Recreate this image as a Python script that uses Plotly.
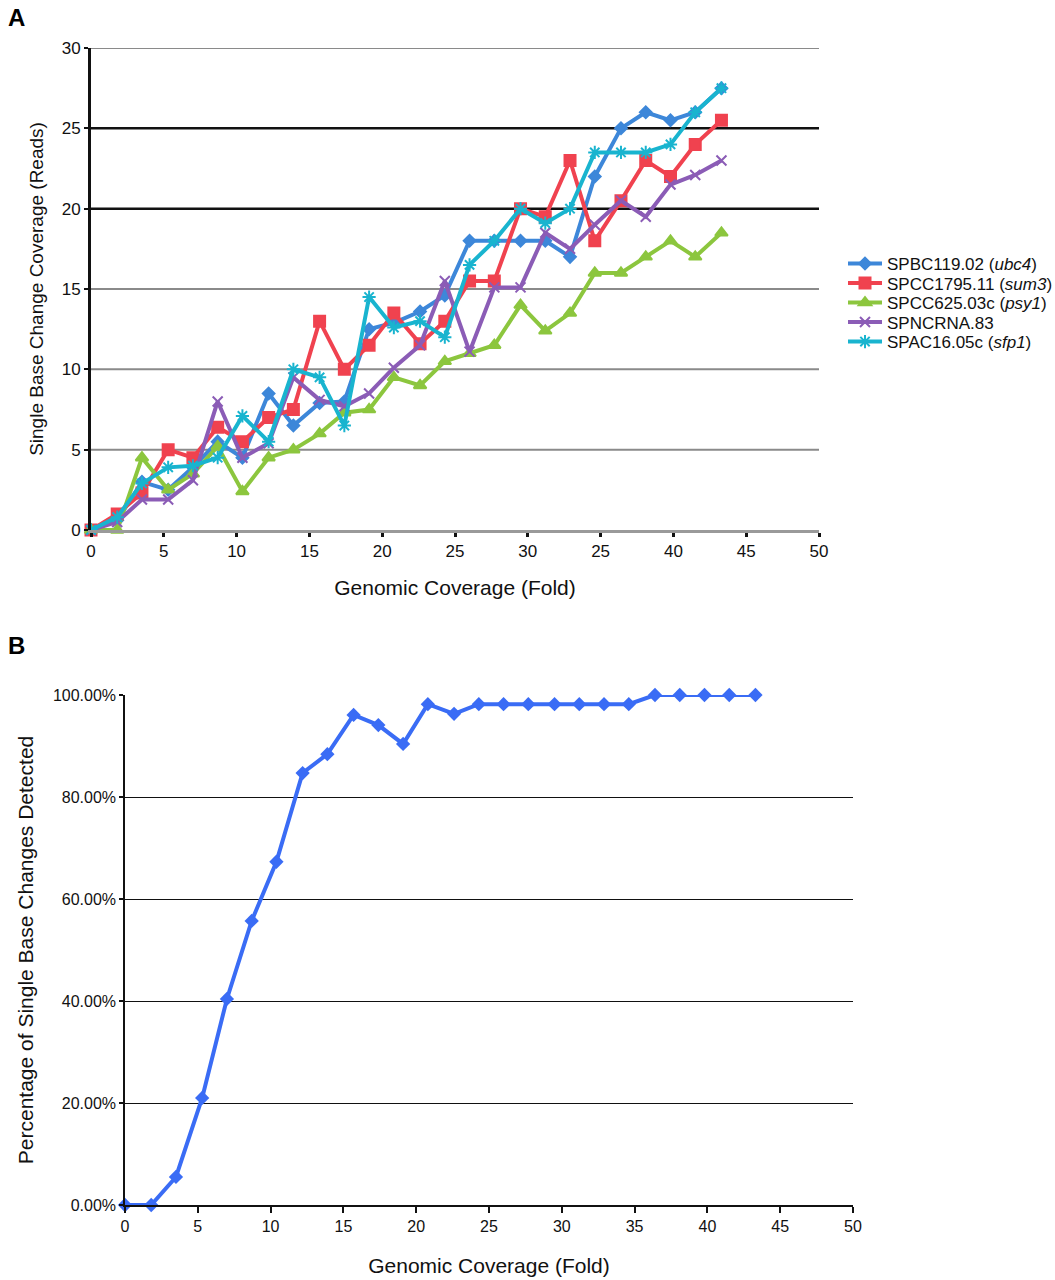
import plotly.graph_objects as go

# ---------------- data ----------------
coverage = [0, 1.8, 3.5, 5.3, 7.0, 8.7, 10.4, 12.2, 13.9, 15.7, 17.4, 19.1, 20.8,
            22.6, 24.3, 26.0, 27.7, 29.5, 31.2, 32.9, 34.6, 36.4, 38.1, 39.8, 41.5, 43.3]

ubc4 = [0, 0.6, 3.0, 2.5, 3.9, 5.5, 4.5, 8.5, 6.5, 7.9, 8.0, 12.5, 12.9,
        13.6, 14.6, 18.0, 18.0, 18.0, 18.0, 17.0, 22.0, 25.0, 26.0, 25.5, 26.0, 27.5]
sum3 = [0, 1.0, 2.3, 5.0, 4.5, 6.4, 5.5, 7.0, 7.5, 13.0, 10.0, 11.5, 13.5,
        11.6, 13.0, 15.5, 15.5, 20.0, 19.5, 23.0, 18.0, 20.5, 23.0, 22.0, 24.0, 25.5]
psy1 = [0, 0, 4.5, 2.5, 3.5, 5.2, 2.4, 4.5, 5.0, 6.0, 7.3, 7.5, 9.5,
        9.0, 10.5, 11.0, 11.5, 14.0, 12.4, 13.5, 16.0, 16.0, 17.0, 18.0, 17.0, 18.5]
spncrna83 = [0, 0.5, 1.9, 1.9, 3.1, 8.0, 4.5, 5.4, 9.5, 8.1, 7.7, 8.5, 10.1,
             11.5, 15.5, 11.1, 15.1, 15.1, 18.5, 17.5, 19.0, 20.5, 19.5, 21.5, 22.1, 23.0]
sfp1 = [0, 0.8, 2.9, 3.9, 4.0, 4.5, 7.1, 5.5, 10.0, 9.5, 6.5, 14.5, 12.6,
        13.0, 12.0, 16.5, 18.0, 20.0, 19.1, 20.0, 23.5, 23.5, 23.5, 24.0, 26.0, 27.5]

pct_detected = [0, 0, 5.5, 21.0, 40.4, 55.7, 67.3, 84.7, 88.4, 96.1, 94.1, 90.4, 98.2,
                96.3, 98.2, 98.2, 98.2, 98.2, 98.2, 98.2, 98.2, 100, 100, 100, 100, 100]

series_names = ["SPBC119.02 (<i>ubc4</i>)", "SPCC1795.11 (<i>sum3</i>)",
                "SPCC625.03c (<i>psy1</i>)", "SPNCRNA.83", "SPAC16.05c (<i>sfp1</i>)"]
series_values = [ubc4, sum3, psy1, spncrna83, sfp1]

a_xtick_vals = [0, 5, 10, 15, 20, 25, 30, 35, 40, 45, 50]
a_xtick_text = ["0", "5", "10", "15", "20", "25", "30", "25", "40", "45", "50"]
a_ytick_vals = [0, 5, 10, 15, 20, 25, 30]
a_gray_grid = [5, 10, 15, 30]
a_dark_grid = [20, 25]
b_xtick_vals = [0, 5, 10, 15, 20, 25, 30, 35, 40, 45, 50]
b_ytick_vals = [0, 20, 40, 60, 80, 100]
b_ytick_text = ["0.00%", "20.00%", "40.00%", "60.00%", "80.00%", "100.00%"]

# ---------------- styles ----------------
colors = ["#3d87d9", "#f0424f", "#8cc63e", "#8b5cb6", "#19b4cf"]
symbols = ["diamond", "square", "triangle-up", "x-thin-open", "asterisk-open"]
msizes = [9, 11, 11, 10, 11]
FONT = "Liberation Sans, Arial, sans-serif"
W, H = 1055, 1280
legend_ids = ["legend", "legend2", "legend3", "legend4", "legend5"]
legend_px_y = [264, 283.5, 303, 322.5, 342]

fig = go.Figure()

for name, vals, c, s, ms, lg in zip(series_names, series_values, colors, symbols, msizes, legend_ids):
    fig.add_trace(go.Scatter(
        x=coverage, y=vals, name=name, mode="lines+markers",
        line=dict(color=c, width=4),
        marker=dict(symbol=s, size=ms, color=c, line=dict(color=c, width=2)),
        cliponaxis=False, xaxis="x", yaxis="y", legend=lg,
    ))

fig.add_trace(go.Scatter(
    x=coverage, y=pct_detected, mode="lines+markers", showlegend=False,
    line=dict(color="#3a6cf5", width=4),
    marker=dict(symbol="diamond", size=11, color="#3a6cf5"),
    cliponaxis=False, xaxis="x2", yaxis="y2",
))

tickfont_a = dict(family=FONT, size=17, color="#111")
tickfont_b = dict(family=FONT, size=16, color="#111")

legend_layout = {}
for lg, py in zip(legend_ids, legend_px_y):
    legend_layout[lg] = dict(
        x=843 / W, y=1 - py / H, xanchor="left", yanchor="middle",
        font=dict(family=FONT, size=17, color="#111"),
        itemwidth=34, bgcolor="rgba(0,0,0,0)",
    )

grid_shapes = (
    [dict(type="line", xref="x domain", yref="y", x0=0, x1=1, y0=g, y1=g,
          line=dict(color="#8a8a8a", width=2), layer="below") for g in a_gray_grid]
    + [dict(type="line", xref="x domain", yref="y", x0=0, x1=1, y0=g, y1=g,
            line=dict(color="#111", width=2.5), layer="below") for g in a_dark_grid]
)

fig.update_layout(
    width=W, height=H,
    margin=dict(l=0, r=0, t=0, b=0, autoexpand=False),
    paper_bgcolor="white", plot_bgcolor="white",
    font=dict(family=FONT, color="#111"),
    xaxis=dict(
        domain=[91 / W, 819 / W], range=[0, 50],
        tickvals=a_xtick_vals, ticktext=a_xtick_text,
        showgrid=False, zeroline=False,
        showline=True, linecolor="#9a9a9a", linewidth=3,
        ticks="outside", ticklen=4, tickwidth=3, tickcolor="#111",
        tickfont=tickfont_a, automargin=False,
        title=dict(text="Genomic Coverage (Fold)", font=dict(family=FONT, size=21, color="#111"), standoff=20),
        anchor="y",
    ),
    yaxis=dict(
        domain=[1 - 530 / H, 1 - 48 / H], range=[0, 30],
        tickvals=a_ytick_vals,
        showgrid=False, zeroline=False,
        showline=True, linecolor="#111", linewidth=3,
        ticks="outside", ticklen=4, tickwidth=2, tickcolor="#111",
        tickfont=tickfont_a, automargin=False,
        title=dict(text="Single Base Change Coverage (Reads)", font=dict(family=FONT, size=19, color="#111"), standoff=14),
        anchor="x",
    ),
    xaxis2=dict(
        domain=[125 / W, 853 / W], range=[0, 50],
        tickvals=b_xtick_vals,
        showgrid=False, zeroline=False,
        showline=True, linecolor="#111", linewidth=1.5,
        ticks="outside", ticklen=6, tickwidth=1.5, tickcolor="#111",
        tickfont=tickfont_b, automargin=False,
        title=dict(text="Genomic Coverage (Fold)", font=dict(family=FONT, size=21, color="#111"), standoff=24),
        anchor="y2",
    ),
    yaxis2=dict(
        domain=[1 - 1205 / H, 1 - 695 / H], range=[0, 100],
        tickvals=b_ytick_vals, ticktext=b_ytick_text,
        showgrid=True, gridcolor="#111", gridwidth=1.2, zeroline=False,
        showline=True, linecolor="#111", linewidth=1.5,
        ticks="outside", ticklen=4, tickwidth=1.5, tickcolor="#111",
        tickfont=tickfont_b, automargin=False,
        title=dict(text="Percentage of Single Base Changes Detected", font=dict(family=FONT, size=21, color="#111"), standoff=14),
        anchor="x2",
    ),
    annotations=[
        dict(text="<b>A</b>", x=6 / W, y=1 - 18 / H, xref="paper", yref="paper",
             xanchor="left", yanchor="middle", showarrow=False,
             font=dict(family=FONT, size=24, color="#000")),
        dict(text="<b>B</b>", x=6 / W, y=1 - 645 / H, xref="paper", yref="paper",
             xanchor="left", yanchor="middle", showarrow=False,
             font=dict(family=FONT, size=24, color="#000")),
    ],
    shapes=grid_shapes,
    **legend_layout,
)

fig.write_html("out.html")
